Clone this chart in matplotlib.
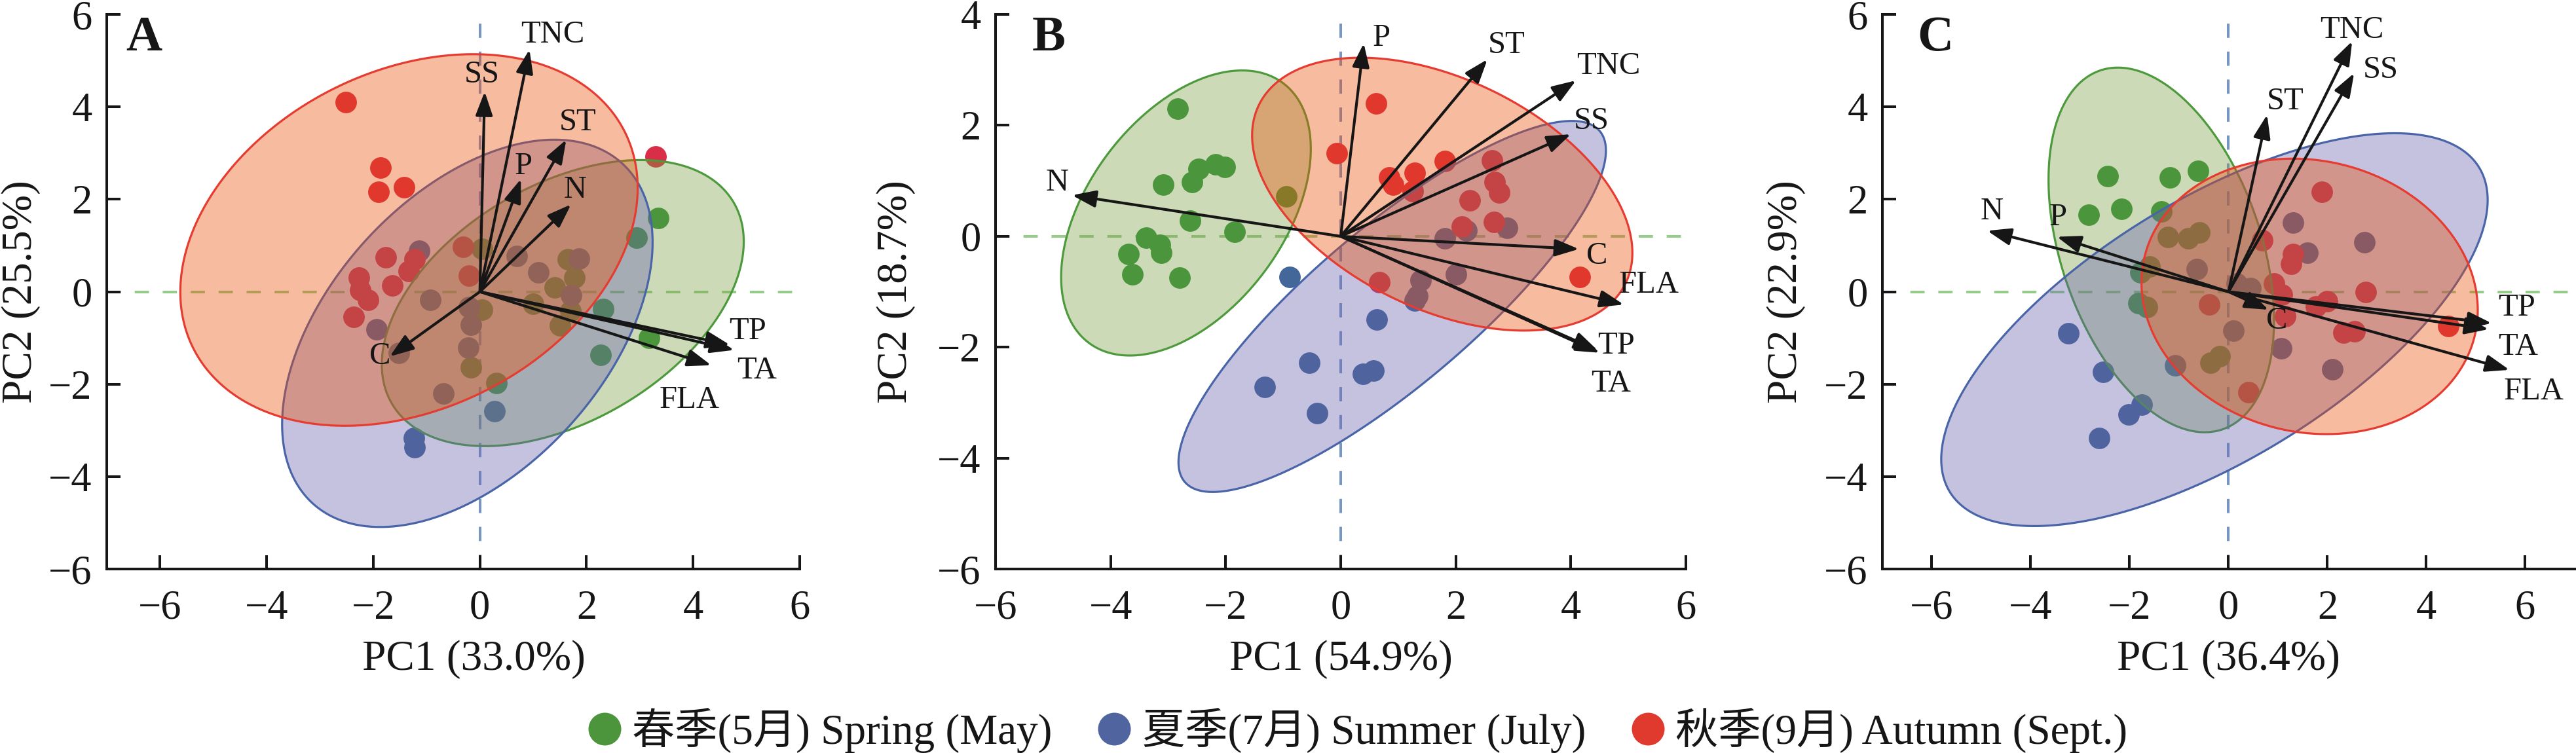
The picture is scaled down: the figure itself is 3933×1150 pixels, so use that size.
# -*- coding: utf-8 -*-
"""
PCA biplots of the three sampling seasons (panels A, B, C).
"""

import numpy as np
import matplotlib
matplotlib.use('Agg')
import matplotlib.pyplot as plt
from matplotlib.colors import to_rgba
from matplotlib.lines import Line2D
from matplotlib.patches import Polygon

plt.rcParams['font.family'] = ['Liberation Serif', 'Noto Sans CJK SC']
plt.rcParams['axes.unicode_minus'] = True

############################################################################## Data

seasons = ['春季(5月) Spring (May)', '夏季(7月) Summer (July)', '秋季(9月) Autumn (Sept.)']
variables = ['SS', 'TNC', 'ST', 'P', 'N', 'C', 'TP', 'TA', 'FLA']

# Panel A scores
a_spring_x = [3.34, 2.94, 2.31, 3.18, 2.27, 0.04, 1.65, 1.77, 1.40, 1.00, 1.50, 1.70, 0.04, -0.17, 0.31]
a_spring_y = [1.60, 1.17, -0.37, -1.00, -1.36, 0.93, 0.70, 0.31, 0.10, -0.26, -0.73, -0.42, -0.39, -1.64, -1.98]
a_summer_x = [-1.14, 0.69, 1.10, 1.86, 1.71, -0.93, -0.20, -0.17, -0.22, -1.94, -1.52, -0.69, 0.27, -1.24, -1.23]
a_summer_y = [0.89, 0.78, 0.42, 0.71, -0.07, -0.17, -0.33, -0.72, -1.21, -0.81, -1.33, -2.20, -2.58, -3.17, -3.37]
a_autumn_x = [-2.51, -1.86, -1.90, -1.42, 3.30, -1.76, -1.22, -1.33, -2.27, -2.25, -2.10, -1.64, -2.37, -0.31, -0.20]
a_autumn_y = [4.10, 2.69, 2.16, 2.26, 2.92, 0.74, 0.70, 0.45, 0.30, 0.03, -0.17, 0.14, -0.55, 0.97, 0.35]
# ellipses: centre x, centre y, half range x, half range y, correlation
a_ellipses = [[1.555, -0.245, 3.395, 3.095, 0.43],
              [-0.235, -0.90, 3.475, 4.19, 0.47],
              [-1.33, 1.12, 4.29, 4.02, 0.28]]
# loadings (order of `variables`)
a_load_x = [0.09, 0.93, 1.62, 0.77, 1.71, -1.69, 4.69, 4.77, 4.34]
a_load_y = [4.33, 5.24, 3.29, 2.44, 1.89, -1.40, -1.15, -1.26, -1.59]
a_label_x = [0.04, 1.36, 1.84, 0.82, 1.79, -1.87, 5.03, 5.20, 3.93]
a_label_y = [4.70, 5.56, 3.66, 2.72, 2.20, -1.40, -0.86, -1.71, -2.34]

# Panel B scores
b_spring_x = [-2.84, -2.47, -2.18, -2.01, -2.58, -3.08, -0.94, -2.62, -1.84, -3.38, -3.14, -3.12, -3.69, -3.62, -2.80]
b_spring_y = [2.30, 1.22, 1.30, 1.25, 0.98, 0.93, 0.72, 0.28, 0.08, -0.02, -0.15, -0.30, -0.32, -0.69, -0.74]
b_summer_x = [-0.89, 0.63, -0.55, -1.32, 0.39, 0.57, -0.41, 1.81, 2.19, 2.89, 2.00, 1.39, 1.33, 1.29]
b_summer_y = [-0.73, -1.50, -2.28, -2.72, -2.48, -2.42, -3.19, -0.04, 0.11, 0.15, -0.69, -0.79, -1.08, -1.16]
b_autumn_x = [0.61, -0.07, 0.84, 0.91, 1.29, 1.25, 1.81, 2.63, 2.68, 2.75, 2.24, 2.11, 2.66, 0.67, 4.16]
b_autumn_y = [2.40, 1.50, 1.06, 0.93, 1.14, 0.81, 1.36, 1.37, 0.98, 0.79, 0.65, 0.18, 0.26, -0.83, -0.73]
b_ellipses = [[-2.69, 0.42, 2.17, 2.57, 0.45],
              [0.895, -1.265, 3.715, 3.345, 0.84],
              [1.765, 0.76, 3.305, 2.46, -0.43]]
b_load_x = [4.00, 4.09, 2.55, 0.40, -4.67, 4.14, 4.50, 4.47, 4.92]
b_load_y = [1.84, 2.81, 3.19, 3.48, 0.74, -0.23, -2.10, -2.06, -1.23]
b_label_x = [4.36, 4.65, 2.88, 0.71, -4.93, 4.45, 4.79, 4.70, 5.36]
b_label_y = [2.08, 3.07, 3.45, 3.57, 0.97, -0.36, -1.97, -2.66, -0.87]

# Panel C scores
c_spring_x = [-2.44, -1.19, -0.62, -2.83, -2.16, -1.36, -1.23, -0.82, -0.59, -1.78, -1.60, -1.82, -1.65, -0.36, -0.18]
c_spring_y = [2.50, 2.47, 2.61, 1.67, 1.79, 1.74, 1.18, 1.16, 1.29, 0.42, 0.55, -0.25, -0.33, -1.54, -1.40]
c_summer_x = [-3.24, -2.54, -1.75, -2.02, -2.62, -1.08, -0.64, 1.30, 1.59, 2.75, 0.16, 0.45, 0.10, 1.07, 2.10]
c_summer_y = [-0.90, -1.73, -2.44, -2.65, -3.16, -1.59, 0.49, 1.49, 0.84, 1.07, 0.18, 0.08, -0.84, -1.23, -1.68]
c_autumn_x = [1.89, 0.68, 1.31, 1.27, 0.92, 1.08, -0.39, 1.14, 1.77, 2.00, 2.78, 2.32, 2.55, 4.45, 0.40]
c_autumn_y = [2.16, 1.12, 0.82, 0.60, 0.18, -0.06, -0.27, -0.53, -0.32, -0.20, 0.00, -0.88, -0.86, -0.74, -2.18]
c_ellipses = [[-1.36, 0.905, 2.28, 3.945, -0.385],
              [-0.285, -0.82, 5.525, 4.25, 0.66],
              [1.64, -0.10, 3.40, 2.98, -0.10]]
c_load_x = [2.54, 2.50, 0.78, -3.47, -4.88, 0.81, 5.32, 5.26, 5.68]
c_load_y = [4.73, 5.42, 3.83, 1.19, 1.32, -0.39, -0.68, -0.81, -1.69]
c_label_x = [3.07, 2.50, 1.15, -3.45, -4.79, 0.98, 5.83, 5.86, 6.17]
c_label_y = [4.80, 5.66, 4.12, 1.61, 1.73, -0.63, -0.34, -1.19, -2.16]

############################################################################## Style

point_colors = ['#2f9139', '#426798', '#da2d47']
legend_colors = ['#4c953c', '#5065a0', '#e0392e']
fill_colors = ['#7b9e42', '#6661ad', '#ea4c05']
edge_colors = ['#4d9a3d', '#4a64a8', '#e63b30']
FILL_ALPHA = 0.38
INK = '#161616'

############################################################################## Functions

def ellipse_xy(cx, cy, sx, sy, r, n=400):
    """Outline of an ellipse given its centre, x/y half ranges and correlation."""
    t = np.linspace(0, 2 * np.pi, n)
    x = cx + sx * np.cos(t)
    y = cy + sy * (r * np.cos(t) + np.sqrt(1 - r ** 2) * np.sin(t))
    return np.column_stack([x, y])


def draw_panel(ax, scores, ellipses, load_x, load_y, lab_x, lab_y,
               xlim, ylim, xlabel, ylabel, letter, letter_x, xlab_x, ylab_x):
    # Reference lines
    ax.axhline(0, color='#96cc8a', lw=2.9, ls=(0, (5.4, 5.2)), zorder=1)
    ax.axvline(0, color='#7896c4', lw=2.9, ls=(0, (5.4, 5.2)), zorder=1)

    # Scores
    for (x, y), c in zip(scores, point_colors):
        ax.scatter(x, y, s=560, color=c, lw=0, zorder=2)

    # Ellipses (spring, summer, autumn)
    for ell, fc, ec in zip(ellipses, fill_colors, edge_colors):
        ax.add_patch(Polygon(ellipse_xy(*ell), closed=True,
                             facecolor=to_rgba(fc, FILL_ALPHA),
                             edgecolor=ec, lw=2.3, zorder=3))

    # Loadings
    for name, lx, ly, tx, ty in zip(variables, load_x, load_y, lab_x, lab_y):
        ax.annotate('', xy=(lx, ly), xytext=(0, 0),
                    arrowprops=dict(arrowstyle='-|>,head_length=1.0,head_width=0.36',
                                    mutation_scale=22, lw=3.0, color=INK,
                                    shrinkA=0, shrinkB=0),
                    zorder=4)
        ax.text(tx, ty, name, fontsize=35, color=INK, ha='center',
                va='center', zorder=5, clip_on=False)

    # Axes
    ax.set_xlim(*xlim)
    ax.set_ylim(*ylim)
    ax.set_xticks(np.arange(-6, 7, 2))
    ax.set_yticks(np.arange(-6, ylim[1] + 1, 2))
    for side in ['top', 'right']:
        ax.spines[side].set_visible(False)
    for side in ['left', 'bottom']:
        ax.spines[side].set_linewidth(2.9)
        ax.spines[side].set_color(INK)
    ax.tick_params(direction='in', length=15, width=2.9, color=INK,
                   labelsize=45, labelcolor=INK)
    ax.tick_params(axis='x', pad=23)
    ax.tick_params(axis='y', pad=16)
    ax.set_xlabel(xlabel, fontsize=47, color=INK)
    ax.set_ylabel(ylabel, fontsize=47, color=INK)
    ax.xaxis.set_label_coords(xlab_x, -0.128)
    ax.yaxis.set_label_coords(ylab_x, 0.5)
    ax.text(letter_x, 0.935, letter, transform=ax.transAxes, fontsize=55,
            fontweight='bold', color=INK, ha='left', va='baseline')

############################################################################## Plot

fig = plt.figure(figsize=(39.33, 11.5), dpi=100)
bottom, height = 0.2443, 0.7365
ax_a = fig.add_axes([0.04144, bottom, 0.26901, height])
ax_b = fig.add_axes([0.38647, bottom, 0.26799, height])
ax_c = fig.add_axes([0.73074, bottom, 0.26875, height])

draw_panel(ax_a,
           [(a_spring_x, a_spring_y), (a_summer_x, a_summer_y), (a_autumn_x, a_autumn_y)],
           a_ellipses, a_load_x, a_load_y, a_label_x, a_label_y,
           (-7, 6), (-6, 6), 'PC1 (33.0%)', 'PC2 (25.5%)', 'A', 0.028, 0.530, -0.0955)
draw_panel(ax_b,
           [(b_spring_x, b_spring_y), (b_summer_x, b_summer_y), (b_autumn_x, b_autumn_y)],
           b_ellipses, b_load_x, b_load_y, b_label_x, b_label_y,
           (-6, 6), (-6, 4), 'PC1 (54.9%)', 'PC2 (18.7%)', 'B', 0.053, 0.5, -0.116)
draw_panel(ax_c,
           [(c_spring_x, c_spring_y), (c_summer_x, c_summer_y), (c_autumn_x, c_autumn_y)],
           c_ellipses, c_load_x, c_load_y, c_label_x, c_label_y,
           (-7, 7), (-6, 6), 'PC1 (36.4%)', 'PC2 (22.9%)', 'C', 0.050, 0.5, -0.111)

handles = [Line2D([], [], ls='', marker='o', markersize=36, markerfacecolor=c,
                  markeredgewidth=0) for c in legend_colors]
fig.legend(handles, seasons, loc='center', bbox_to_anchor=(0.527, 0.030), ncol=3,
           frameon=False, fontsize=47, handlelength=0.8, handletextpad=0.25,
           columnspacing=1.05, borderpad=0, borderaxespad=0,
           labelcolor=INK)

fig.savefig('out.png', dpi=100)
plt.close(fig)
